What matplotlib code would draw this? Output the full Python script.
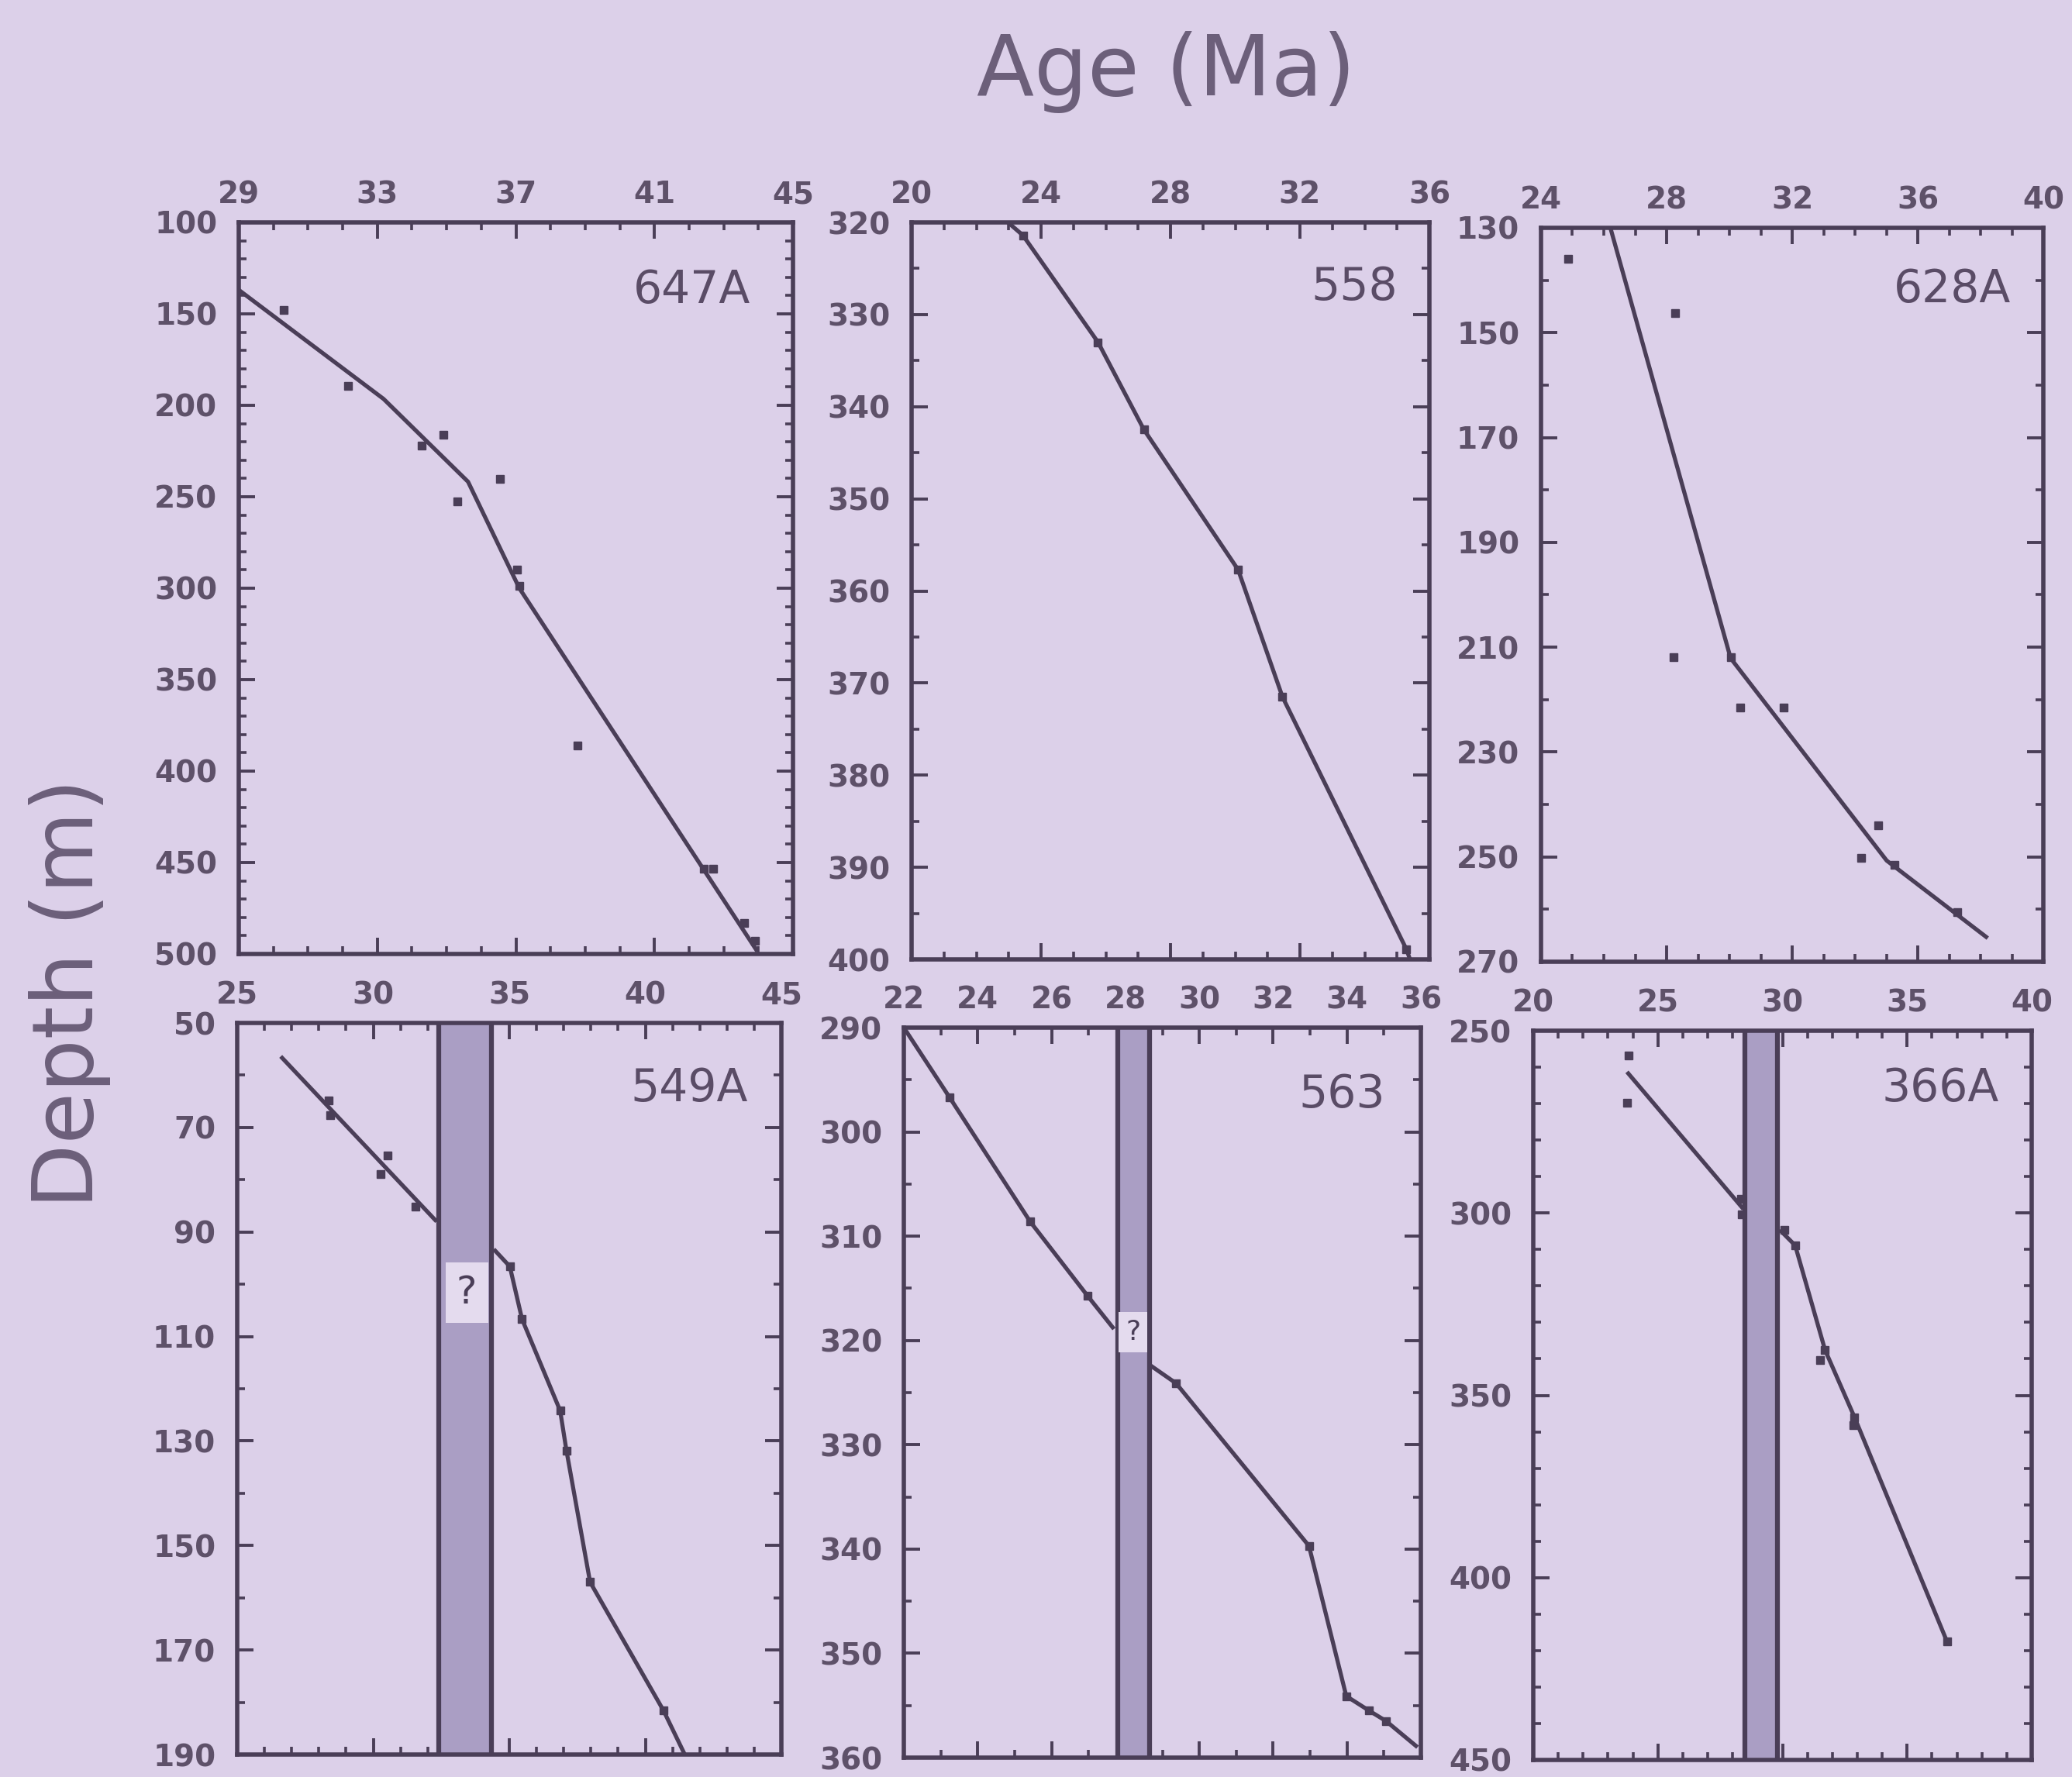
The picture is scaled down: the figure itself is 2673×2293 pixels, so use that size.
import matplotlib
matplotlib.use("Agg")
import matplotlib.pyplot as plt
from matplotlib.ticker import FixedLocator, MultipleLocator
from matplotlib.patches import Rectangle

# ---------------- data ----------------
# 647A
s647_line_age = [29.0, 33.18, 35.62, 37.10, 43.97]
s647_line_depth = [136.9, 196.5, 241.8, 300.0, 498.6]
s647_pt_age = [30.29, 32.15, 34.27, 34.91, 35.30, 36.54, 37.03, 37.10, 38.77, 42.43, 42.69, 43.58, 43.91]
s647_pt_depth = [147.7, 189.4, 222.0, 216.3, 252.6, 240.4, 290.0, 298.6, 385.9, 453.2, 453.2, 483.0, 493.0]

# 558
s558_line_age = [22.98, 23.44, 25.76, 27.18, 30.09, 31.46, 35.29, 35.40]
s558_line_depth = [320.0, 321.4, 333.0, 342.5, 357.7, 371.5, 398.9, 400.0]
s558_pt_age = [23.44, 25.76, 27.18, 30.09, 31.46, 35.29]
s558_pt_depth = [321.4, 333.0, 342.5, 357.7, 371.5, 398.9]

# 628A
s628_line_age = [26.21, 30.04, 35.01, 38.23]
s628_line_depth = [130.0, 212.1, 250.7, 265.5]
s628_pt_age = [24.86, 28.27, 28.22, 30.04, 30.35, 31.73, 34.19, 34.74, 35.27, 37.25]
s628_pt_depth = [135.9, 146.3, 211.9, 211.9, 221.5, 221.5, 250.2, 244.0, 251.5, 260.6]

# 549A
s549_upper_age = [26.60, 32.33]
s549_upper_depth = [56.4, 88.0]
s549_lower_age = [34.43, 35.02, 35.47, 36.87, 37.10, 37.97, 40.67, 41.45]
s549_lower_depth = [93.3, 96.6, 106.7, 124.2, 131.8, 157.0, 181.6, 190.0]
s549_pt_age = [28.37, 28.43, 30.53, 30.28, 31.54, 35.02, 35.47, 36.87, 37.10, 37.97, 40.67]
s549_pt_depth = [64.8, 67.7, 75.3, 78.9, 85.2, 96.6, 106.7, 124.2, 131.8, 157.0, 181.6]
s549_gap = [32.40, 34.35]
s549_q_box = [32.65, 34.22, 95.9, 107.4]

# 563
s563_upper_age = [22.0, 23.24, 25.42, 26.97, 27.69]
s563_upper_depth = [290.0, 296.7, 308.6, 315.7, 318.9]
s563_lower_age = [28.68, 29.37, 32.97, 33.98, 34.60, 35.06, 35.91]
s563_lower_depth = [322.4, 324.1, 339.7, 354.1, 355.5, 356.5, 359.0]
s563_pt_age = [23.24, 25.42, 26.97, 29.37, 32.97, 33.98, 34.60, 35.06]
s563_pt_depth = [296.7, 308.6, 315.7, 324.1, 339.7, 354.1, 355.5, 356.5]
s563_gap = [27.80, 28.65]
s563_q_box = [27.82, 28.60, 317.3, 321.1]

# 366A
s366_upper_age = [23.76, 28.43]
s366_upper_depth = [261.3, 298.9]
s366_lower_age = [29.89, 30.51, 31.71, 32.89, 36.60]
s366_lower_depth = [304.6, 308.9, 337.6, 356.0, 417.5]
s366_pt_age = [23.83, 23.76, 28.34, 28.37, 30.08, 30.51, 31.71, 31.50, 32.89, 32.84, 36.60]
s366_pt_depth = [256.8, 269.8, 296.1, 300.4, 304.6, 308.9, 337.6, 340.4, 356.0, 358.1, 417.5]
s366_gap = [28.50, 29.80]

# tick labels (major) per panel
x_ticks_647 = [29, 33, 37, 41, 45]
y_ticks_647 = [100, 150, 200, 250, 300, 350, 400, 450, 500]
x_ticks_558 = [20, 24, 28, 32, 36]
y_ticks_558 = [320, 330, 340, 350, 360, 370, 380, 390, 400]
x_ticks_628 = [24, 28, 32, 36, 40]
y_ticks_628 = [130, 150, 170, 190, 210, 230, 250, 270]
x_ticks_549 = [25, 30, 35, 40, 45]
y_ticks_549 = [50, 70, 90, 110, 130, 150, 170, 190]
x_ticks_563 = [22, 24, 26, 28, 30, 32, 34, 36]
y_ticks_563 = [290, 300, 310, 320, 330, 340, 350, 360]
x_ticks_366 = [20, 25, 30, 35, 40]
y_ticks_366 = [250, 300, 350, 400, 450]

# minor tick steps per panel (x, y)
minor_647 = (1, 10)
minor_558 = (1, 5)
minor_628 = (1, 10)
minor_549 = (1, 10)
minor_563 = (1, 5)
minor_366 = (1, 10)

# ---------------- style ----------------
BG = "#dcd0e9"
INK = "#4a3e57"
TICKLAB = "#5e5169"
LABEL = "#5a4c66"
TITLE = "#6c5f7a"
BAND = "#aa9ec4"
QBOX = "#e4dbee"

W, H = 2673, 2293
fig = plt.figure(figsize=(W / 100, H / 100), dpi=100, facecolor=BG)


def box(l, r, t, b):
    return [l / W, 1 - b / H, (r - l) / W, (b - t) / H]


def setup(rect, xt, yt, minor, name, lx=0.935, ly=0.91):
    ax = fig.add_axes(rect, facecolor=BG)
    ax.set_xlim(xt[0], xt[-1])
    ax.set_ylim(yt[-1], yt[0])
    ax.xaxis.set_major_locator(FixedLocator(xt))
    ax.yaxis.set_major_locator(FixedLocator(yt))
    ax.xaxis.set_minor_locator(MultipleLocator(minor[0]))
    ax.yaxis.set_minor_locator(MultipleLocator(minor[1]))
    ax.tick_params(axis="both", which="both", direction="in", colors=INK,
                   labelcolor=TICKLAB, labelsize=28)
    ax.tick_params(axis="x", which="both", top=True, bottom=True,
                   labeltop=True, labelbottom=False, pad=12)
    ax.tick_params(axis="y", which="both", left=True, right=True,
                   labelleft=True, labelright=False, pad=20)
    ax.tick_params(which="major", length=15, width=2.8)
    ax.tick_params(which="minor", length=7, width=2.6)
    for lab in ax.get_xticklabels() + ax.get_yticklabels():
        lab.set_fontweight("bold")
    for sp in ax.spines.values():
        sp.set_color(INK)
        sp.set_linewidth(4)
    ax.text(lx, ly, name, transform=ax.transAxes, ha="right", va="center",
            fontsize=42, color=LABEL)
    return ax


def pts(ax, x, y):
    ax.plot(x, y, linestyle="none", marker="s", markersize=7.5,
            color=INK, zorder=5)


def line(ax, x, y):
    ax.plot(x, y, color=INK, linewidth=3.8, zorder=4, solid_capstyle="butt")


def gap(ax, g, qbox=None, qsize=34):
    ax.axvspan(g[0], g[1], facecolor=BAND, edgecolor="none", zorder=2)
    for v in g:
        ax.axvline(v, color=INK, linewidth=4.5, zorder=3)
    if qbox is not None:
        x0, x1, y0, y1 = qbox
        ax.add_patch(Rectangle((x0, y0), x1 - x0, y1 - y0, facecolor=QBOX,
                               edgecolor="none", zorder=3.5))
        ax.text((x0 + x1) / 2, (y0 + y1) / 2, "?", ha="center", va="center",
                fontsize=qsize, color=INK, zorder=6)


# row 1
a1 = setup(box(308, 1023, 287, 1231), x_ticks_647, y_ticks_647, minor_647, "647A", 0.923, 0.907)
line(a1, s647_line_age, s647_line_depth)
pts(a1, s647_pt_age, s647_pt_depth)

a2 = setup(box(1176, 1844, 287, 1238), x_ticks_558, y_ticks_558, minor_558, "558", 0.939, 0.912)
line(a2, s558_line_age, s558_line_depth)
pts(a2, s558_pt_age, s558_pt_depth)

a3 = setup(box(1988, 2636, 294, 1241), x_ticks_628, y_ticks_628, minor_628, "628A", 0.935, 0.916)
line(a3, s628_line_age, s628_line_depth)
pts(a3, s628_pt_age, s628_pt_depth)

# row 2
a4 = setup(box(306, 1008, 1320, 2264), x_ticks_549, y_ticks_549, minor_549, "549A", 0.939, 0.911)
gap(a4, s549_gap, s549_q_box, 36)
line(a4, s549_upper_age, s549_upper_depth)
line(a4, s549_lower_age, s549_lower_depth)
pts(a4, s549_pt_age, s549_pt_depth)

a5 = setup(box(1166, 1833, 1326, 2268), x_ticks_563, y_ticks_563, minor_563, "563", 0.931, 0.908)
gap(a5, s563_gap, s563_q_box, 26)
line(a5, s563_upper_age, s563_upper_depth)
line(a5, s563_lower_age, s563_lower_depth)
pts(a5, s563_pt_age, s563_pt_depth)

a6 = setup(box(1978, 2621, 1330, 2271), x_ticks_366, y_ticks_366, minor_366, "366A", 0.935, 0.921)
gap(a6, s366_gap)
line(a6, s366_upper_age, s366_upper_depth)
line(a6, s366_lower_age, s366_lower_depth)
pts(a6, s366_pt_age, s366_pt_depth)

fig.text(1504 / W, 1 - 123 / H, "Age (Ma)", ha="center", va="baseline",
         fontsize=78, color=TITLE)
fig.text(90 / W, 1 - 1282 / H, "Depth (m)", ha="center", va="center",
         rotation=90, fontsize=78, color=TITLE)

fig.savefig("out.png", dpi=100, facecolor=BG)
